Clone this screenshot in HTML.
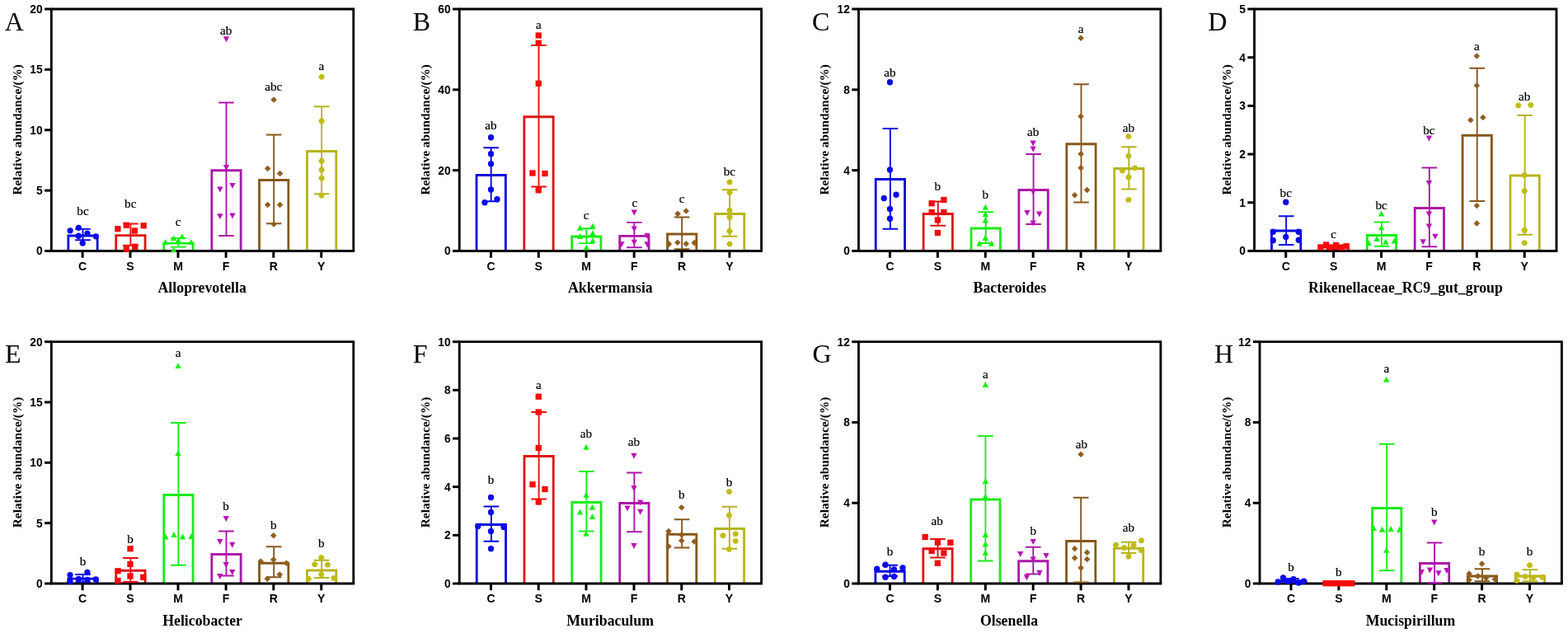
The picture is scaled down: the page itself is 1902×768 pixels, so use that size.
<!DOCTYPE html>
<html lang="en">
<head>
<meta charset="utf-8">
<title>Relative abundance of genera</title>
<style>
html,body{margin:0;padding:0;background:#fff;}
body{width:1902px;height:768px;overflow:hidden;}
svg{display:block;}
.tk{font-family:"Liberation Sans",sans-serif;font-weight:bold;font-size:13.8px;fill:#000;}
.xl{font-family:"Liberation Sans",sans-serif;font-weight:bold;font-size:14.1px;fill:#000;}
.tt{font-family:"Liberation Serif",serif;font-weight:bold;font-size:17.8px;fill:#000;}
.yl{font-family:"Liberation Serif",serif;font-weight:bold;font-size:15.3px;fill:#000;}
.pl{font-family:"Liberation Serif",serif;font-size:32px;fill:#000;}
.an{font-family:"Liberation Serif",serif;font-size:15.2px;fill:#000;stroke:#000;stroke-width:0.2px;}
</style>
</head>
<body>
<svg width="1902" height="768" viewBox="0 0 1902 768">
<rect x="0" y="0" width="1902" height="768" fill="#ffffff"/>

<g id="panel-A">
<path d="M82.85,304.45 V286 H118.15 V304.45" fill="none" stroke="#0a08dc" stroke-width="2.8"/>
<path d="M140.75,304.45 V285.6 H176.05 V304.45" fill="none" stroke="#e21212" stroke-width="2.8"/>
<path d="M198.75,304.45 V295.1 H234.05 V304.45" fill="none" stroke="#1aec1a" stroke-width="2.8"/>
<path d="M256.85,304.45 V206.75 H292.15 V304.45" fill="none" stroke="#ac16a8" stroke-width="2.8"/>
<path d="M314.55,304.45 V218.5 H349.85 V304.45" fill="none" stroke="#86581a" stroke-width="2.8"/>
<path d="M372.5,304.45 V183.5 H407.8 V304.45" fill="none" stroke="#b6b41a" stroke-width="2.8"/>
<path d="M60.88,11 H428.8 V304.45" fill="none" stroke="#000" stroke-width="2.85"/>
<path d="M62.3,11 V304.45 H430.23" fill="none" stroke="#000" stroke-width="2.85" stroke-linejoin="miter"/>
<path d="M54.1,11 H62.3" stroke="#000" stroke-width="3"/>
<text class="tk" x="51.7" y="16" text-anchor="end">20</text>
<path d="M54.1,84.36 H62.3" stroke="#000" stroke-width="3"/>
<text class="tk" x="51.7" y="89.36" text-anchor="end">15</text>
<path d="M54.1,157.72 H62.3" stroke="#000" stroke-width="3"/>
<text class="tk" x="51.7" y="162.72" text-anchor="end">10</text>
<path d="M54.1,231.09 H62.3" stroke="#000" stroke-width="3"/>
<text class="tk" x="51.7" y="236.09" text-anchor="end">5</text>
<path d="M54.1,304.45 H62.3" stroke="#000" stroke-width="3"/>
<text class="tk" x="51.7" y="309.45" text-anchor="end">0</text>
<path d="M100.1,304.45 V312.75" stroke="#000" stroke-width="3"/>
<text class="xl" x="100.1" y="327.55" text-anchor="middle">C</text>
<path d="M158,304.45 V312.75" stroke="#000" stroke-width="3"/>
<text class="xl" x="158" y="327.55" text-anchor="middle">S</text>
<path d="M216,304.45 V312.75" stroke="#000" stroke-width="3"/>
<text class="xl" x="216" y="327.55" text-anchor="middle">M</text>
<path d="M274.1,304.45 V312.75" stroke="#000" stroke-width="3"/>
<text class="xl" x="274.1" y="327.55" text-anchor="middle">F</text>
<path d="M331.8,304.45 V312.75" stroke="#000" stroke-width="3"/>
<text class="xl" x="331.8" y="327.55" text-anchor="middle">R</text>
<path d="M389.75,304.45 V312.75" stroke="#000" stroke-width="3"/>
<text class="xl" x="389.75" y="327.55" text-anchor="middle">Y</text>
<g>
<path d="M100.5,277.9 V291.25 M91.2,277.9 H109.8 M91.2,291.25 H109.8" fill="none" stroke="#0a08dc" stroke-width="1.9"/>
<circle cx="85.1" cy="279.8" r="3.65" fill="#0c0ae8"/>
<circle cx="95.3" cy="276.35" r="3.65" fill="#0c0ae8"/>
<circle cx="105.9" cy="283.1" r="3.65" fill="#0c0ae8"/>
<circle cx="95.3" cy="286.25" r="3.65" fill="#0c0ae8"/>
<circle cx="116.35" cy="286.8" r="3.65" fill="#0c0ae8"/>
<circle cx="100.2" cy="295.1" r="3.65" fill="#0c0ae8"/>
</g>
<g>
<path d="M158.4,271.5 V297.7 M149.1,271.5 H167.7 M149.1,297.7 H167.7" fill="none" stroke="#e21212" stroke-width="1.9"/>
<rect x="139.25" y="274.05" width="7.3" height="7.3" fill="#f40c0c"/>
<rect x="149.65" y="269.55" width="7.3" height="7.3" fill="#f40c0c"/>
<rect x="170.55" y="270.1" width="7.3" height="7.3" fill="#f40c0c"/>
<rect x="159.75" y="276.35" width="7.3" height="7.3" fill="#f40c0c"/>
<rect x="149.65" y="298.45" width="7.3" height="7.3" fill="#f40c0c"/>
<rect x="160.1" y="295.65" width="7.3" height="7.3" fill="#f40c0c"/>
</g>
<g>
<path d="M216.4,288.85 V299.6 M207.1,288.85 H225.7 M207.1,299.6 H225.7" fill="none" stroke="#1aec1a" stroke-width="1.9"/>
<polygon points="200.7,290 204.4,296.9 197,296.9" fill="#16f016"/>
<polygon points="210.6,285.4 214.3,292.3 206.9,292.3" fill="#16f016"/>
<polygon points="221,283.3 224.7,290.2 217.3,290.2" fill="#16f016"/>
<polygon points="232,290 235.7,296.9 228.3,296.9" fill="#16f016"/>
<polygon points="210.6,299.4 214.3,306.3 206.9,306.3" fill="#16f016"/>
<polygon points="216.3,288 220,294.9 212.6,294.9" fill="#16f016"/>
</g>
<g>
<path d="M274.5,124.5 V286 M265.2,124.5 H283.8 M265.2,286 H283.8" fill="none" stroke="#ac16a8" stroke-width="1.9"/>
<polygon points="270.8,44.35 278.2,44.35 274.5,51.25" fill="#b814b6"/>
<polygon points="270.8,200.1 278.2,200.1 274.5,207" fill="#b814b6"/>
<polygon points="263.2,226.5 270.6,226.5 266.9,233.4" fill="#b814b6"/>
<polygon points="278.3,222 285.7,222 282,228.9" fill="#b814b6"/>
<polygon points="263.2,259.2 270.6,259.2 266.9,266.1" fill="#b814b6"/>
<polygon points="278.3,258.5 285.7,258.5 282,265.4" fill="#b814b6"/>
</g>
<g>
<path d="M332.2,163.5 V271.25 M322.9,163.5 H341.5 M322.9,271.25 H341.5" fill="none" stroke="#86581a" stroke-width="1.9"/>
<polygon points="332.1,117.2 335.9,121 332.1,124.8 328.3,121" fill="#905e20"/>
<polygon points="324.7,200.7 328.5,204.5 324.7,208.3 320.9,204.5" fill="#905e20"/>
<polygon points="339.6,206.7 343.4,210.5 339.6,214.3 335.8,210.5" fill="#905e20"/>
<polygon points="324.7,244.7 328.5,248.5 324.7,252.3 320.9,248.5" fill="#905e20"/>
<polygon points="339.6,244.7 343.4,248.5 339.6,252.3 335.8,248.5" fill="#905e20"/>
<polygon points="332.1,268.2 335.9,272 332.1,275.8 328.3,272" fill="#905e20"/>
</g>
<g>
<path d="M390.15,129.25 V235.3 M380.85,129.25 H399.45 M380.85,235.3 H399.45" fill="none" stroke="#b6b41a" stroke-width="1.9"/>
<polygon points="386.25,93.25 388.2,90 392,90 393.95,93.25 392,96.5 388.2,96.5" fill="#c0bc16"/>
<polygon points="386.25,146.75 388.2,143.5 392,143.5 393.95,146.75 392,150 388.2,150" fill="#c0bc16"/>
<polygon points="386.25,195.2 388.2,191.95 392,191.95 393.95,195.2 392,198.45 388.2,198.45" fill="#c0bc16"/>
<polygon points="386.25,206.1 388.2,202.85 392,202.85 393.95,206.1 392,209.35 388.2,209.35" fill="#c0bc16"/>
<polygon points="386.25,216.2 388.2,212.95 392,212.95 393.95,216.2 392,219.45 388.2,219.45" fill="#c0bc16"/>
<polygon points="386.25,237.2 388.2,233.95 392,233.95 393.95,237.2 392,240.45 388.2,240.45" fill="#c0bc16"/>
</g>
<text class="an" x="100.5" y="261.25" text-anchor="middle">bc</text>
<text class="an" x="158.25" y="251.9" text-anchor="middle">bc</text>
<text class="an" x="216" y="274.4" text-anchor="middle">c</text>
<text class="an" x="274.1" y="41.75" text-anchor="middle">ab</text>
<text class="an" x="331.8" y="109.5" text-anchor="middle">abc</text>
<text class="an" x="389.75" y="85" text-anchor="middle">a</text>
<text class="tt" x="245.2" y="355" text-anchor="middle">Alloprevotella</text>
<text class="yl" transform="translate(25.5,157.32) rotate(-90)" text-anchor="middle">Relative abundance/(%)</text>
<text class="pl" x="5.7" y="36.7">A</text>
</g>
<g id="panel-B">
<path d="M578.05,304.45 V212.5 H613.35 V304.45" fill="none" stroke="#0a08dc" stroke-width="2.8"/>
<path d="M635.85,304.45 V141.75 H671.15 V304.45" fill="none" stroke="#e21212" stroke-width="2.8"/>
<path d="M693.65,304.45 V287 H728.95 V304.45" fill="none" stroke="#1aec1a" stroke-width="2.8"/>
<path d="M751.75,304.45 V286.4 H787.05 V304.45" fill="none" stroke="#ac16a8" stroke-width="2.8"/>
<path d="M809.55,304.45 V284 H844.85 V304.45" fill="none" stroke="#86581a" stroke-width="2.8"/>
<path d="M867.45,304.45 V259.5 H902.75 V304.45" fill="none" stroke="#b6b41a" stroke-width="2.8"/>
<path d="M555.83,11 H923.6 V304.45" fill="none" stroke="#000" stroke-width="2.85"/>
<path d="M557.25,11 V304.45 H925.02" fill="none" stroke="#000" stroke-width="2.85" stroke-linejoin="miter"/>
<path d="M549.05,11 H557.25" stroke="#000" stroke-width="3"/>
<text class="tk" x="546.65" y="16" text-anchor="end">60</text>
<path d="M549.05,108.82 H557.25" stroke="#000" stroke-width="3"/>
<text class="tk" x="546.65" y="113.82" text-anchor="end">40</text>
<path d="M549.05,206.63 H557.25" stroke="#000" stroke-width="3"/>
<text class="tk" x="546.65" y="211.63" text-anchor="end">20</text>
<path d="M549.05,304.45 H557.25" stroke="#000" stroke-width="3"/>
<text class="tk" x="546.65" y="309.45" text-anchor="end">0</text>
<path d="M595.5,304.45 V312.75" stroke="#000" stroke-width="3"/>
<text class="xl" x="595.5" y="327.55" text-anchor="middle">C</text>
<path d="M653.3,304.45 V312.75" stroke="#000" stroke-width="3"/>
<text class="xl" x="653.3" y="327.55" text-anchor="middle">S</text>
<path d="M711.1,304.45 V312.75" stroke="#000" stroke-width="3"/>
<text class="xl" x="711.1" y="327.55" text-anchor="middle">M</text>
<path d="M769.2,304.45 V312.75" stroke="#000" stroke-width="3"/>
<text class="xl" x="769.2" y="327.55" text-anchor="middle">F</text>
<path d="M827,304.45 V312.75" stroke="#000" stroke-width="3"/>
<text class="xl" x="827" y="327.55" text-anchor="middle">R</text>
<path d="M884.9,304.45 V312.75" stroke="#000" stroke-width="3"/>
<text class="xl" x="884.9" y="327.55" text-anchor="middle">Y</text>
<g>
<path d="M595.7,179.25 V244.25 M586.4,179.25 H605 M586.4,244.25 H605" fill="none" stroke="#0a08dc" stroke-width="1.9"/>
<circle cx="595.5" cy="166.75" r="3.65" fill="#0c0ae8"/>
<circle cx="595.5" cy="186.75" r="3.65" fill="#0c0ae8"/>
<circle cx="595.5" cy="198.75" r="3.65" fill="#0c0ae8"/>
<circle cx="595.5" cy="230" r="3.65" fill="#0c0ae8"/>
<circle cx="603" cy="241.75" r="3.65" fill="#0c0ae8"/>
<circle cx="588" cy="245.75" r="3.65" fill="#0c0ae8"/>
</g>
<g>
<path d="M653.5,55 V226.5 M644.2,55 H662.8 M644.2,226.5 H662.8" fill="none" stroke="#e21212" stroke-width="1.9"/>
<rect x="649.6" y="39.35" width="7.3" height="7.3" fill="#f40c0c"/>
<rect x="649.6" y="48.6" width="7.3" height="7.3" fill="#f40c0c"/>
<rect x="649.6" y="97.6" width="7.3" height="7.3" fill="#f40c0c"/>
<rect x="642.35" y="206.35" width="7.3" height="7.3" fill="#f40c0c"/>
<rect x="657.35" y="206.85" width="7.3" height="7.3" fill="#f40c0c"/>
<rect x="649.6" y="227.1" width="7.3" height="7.3" fill="#f40c0c"/>
</g>
<g>
<path d="M711.3,277.3 V295.1 M702,277.3 H720.6 M702,295.1 H720.6" fill="none" stroke="#1aec1a" stroke-width="1.9"/>
<polygon points="719,270.4 722.7,277.3 715.3,277.3" fill="#16f016"/>
<polygon points="703.5,272.9 707.2,279.8 699.8,279.8" fill="#16f016"/>
<polygon points="719,279.2 722.7,286.1 715.3,286.1" fill="#16f016"/>
<polygon points="703.5,283 707.2,289.9 699.8,289.9" fill="#16f016"/>
<polygon points="719,288 722.7,294.9 715.3,294.9" fill="#16f016"/>
<polygon points="711.4,296.5 715.1,303.4 707.7,303.4" fill="#16f016"/>
</g>
<g>
<path d="M769.4,269.9 V300.2 M760.1,269.9 H778.7 M760.1,300.2 H778.7" fill="none" stroke="#ac16a8" stroke-width="1.9"/>
<polygon points="765.6,254.6 773,254.6 769.3,261.5" fill="#b814b6"/>
<polygon points="765.6,274.6 773,274.6 769.3,281.5" fill="#b814b6"/>
<polygon points="781.2,283 788.6,283 784.9,289.9" fill="#b814b6"/>
<polygon points="765.6,290.7 773,290.7 769.3,297.6" fill="#b814b6"/>
<polygon points="750.1,293.3 757.5,293.3 753.8,300.2" fill="#b814b6"/>
<polygon points="781.5,293.3 788.9,293.3 785.2,300.2" fill="#b814b6"/>
</g>
<g>
<path d="M827.2,263.5 V302.1 M817.9,263.5 H836.5 M817.9,302.1 H836.5" fill="none" stroke="#86581a" stroke-width="1.9"/>
<polygon points="822.1,255.6 825.9,259.4 822.1,263.2 818.3,259.4" fill="#905e20"/>
<polygon points="832.3,252.2 836.1,256 832.3,259.8 828.5,256" fill="#905e20"/>
<polygon points="811.4,292.3 815.2,296.1 811.4,299.9 807.6,296.1" fill="#905e20"/>
<polygon points="821.9,290.4 825.7,294.2 821.9,298 818.1,294.2" fill="#905e20"/>
<polygon points="832.3,291.9 836.1,295.7 832.3,299.5 828.5,295.7" fill="#905e20"/>
<polygon points="842.25,290.8 846.05,294.6 842.25,298.4 838.45,294.6" fill="#905e20"/>
</g>
<g>
<path d="M885.1,230.25 V286.75 M875.8,230.25 H894.4 M875.8,286.75 H894.4" fill="none" stroke="#b6b41a" stroke-width="1.9"/>
<polygon points="881.15,221 883.1,217.75 886.9,217.75 888.85,221 886.9,224.25 883.1,224.25" fill="#c0bc16"/>
<polygon points="881.15,233.5 883.1,230.25 886.9,230.25 888.85,233.5 886.9,236.75 883.1,236.75" fill="#c0bc16"/>
<polygon points="881.15,255.2 883.1,251.95 886.9,251.95 888.85,255.2 886.9,258.45 883.1,258.45" fill="#c0bc16"/>
<polygon points="881.15,263.5 883.1,260.25 886.9,260.25 888.85,263.5 886.9,266.75 883.1,266.75" fill="#c0bc16"/>
<polygon points="881.15,280.5 883.1,277.25 886.9,277.25 888.85,280.5 886.9,283.75 883.1,283.75" fill="#c0bc16"/>
<polygon points="881.15,296 883.1,292.75 886.9,292.75 888.85,296 886.9,299.25 883.1,299.25" fill="#c0bc16"/>
</g>
<text class="an" x="595.5" y="156.5" text-anchor="middle">ab</text>
<text class="an" x="653.3" y="35" text-anchor="middle">a</text>
<text class="an" x="711.1" y="266.25" text-anchor="middle">c</text>
<text class="an" x="769.75" y="251.25" text-anchor="middle">c</text>
<text class="an" x="827" y="246.25" text-anchor="middle">c</text>
<text class="an" x="884.9" y="212.5" text-anchor="middle">bc</text>
<text class="tt" x="740.4" y="355" text-anchor="middle">Akkermansia</text>
<text class="yl" transform="translate(520.6,157.32) rotate(-90)" text-anchor="middle">Relative abundance/(%)</text>
<text class="pl" x="500.8" y="36.7">B</text>
</g>
<g id="panel-C">
<path d="M1062.25,304.45 V217.5 H1097.55 V304.45" fill="none" stroke="#0a08dc" stroke-width="2.8"/>
<path d="M1120.15,304.45 V259.5 H1155.45 V304.45" fill="none" stroke="#e21212" stroke-width="2.8"/>
<path d="M1178.05,304.45 V277 H1213.35 V304.45" fill="none" stroke="#1aec1a" stroke-width="2.8"/>
<path d="M1235.95,304.45 V230.5 H1271.25 V304.45" fill="none" stroke="#ac16a8" stroke-width="2.8"/>
<path d="M1293.85,304.45 V174.75 H1329.15 V304.45" fill="none" stroke="#86581a" stroke-width="2.8"/>
<path d="M1351.75,304.45 V204.5 H1387.05 V304.45" fill="none" stroke="#b6b41a" stroke-width="2.8"/>
<path d="M1040.08,11 H1407.9 V304.45" fill="none" stroke="#000" stroke-width="2.85"/>
<path d="M1041.5,11 V304.45 H1409.33" fill="none" stroke="#000" stroke-width="2.85" stroke-linejoin="miter"/>
<path d="M1033.3,11 H1041.5" stroke="#000" stroke-width="3"/>
<text class="tk" x="1030.9" y="16" text-anchor="end">12</text>
<path d="M1033.3,108.82 H1041.5" stroke="#000" stroke-width="3"/>
<text class="tk" x="1030.9" y="113.82" text-anchor="end">8</text>
<path d="M1033.3,206.63 H1041.5" stroke="#000" stroke-width="3"/>
<text class="tk" x="1030.9" y="211.63" text-anchor="end">4</text>
<path d="M1033.3,304.45 H1041.5" stroke="#000" stroke-width="3"/>
<text class="tk" x="1030.9" y="309.45" text-anchor="end">0</text>
<path d="M1079.5,304.45 V312.75" stroke="#000" stroke-width="3"/>
<text class="xl" x="1079.5" y="327.55" text-anchor="middle">C</text>
<path d="M1137.4,304.45 V312.75" stroke="#000" stroke-width="3"/>
<text class="xl" x="1137.4" y="327.55" text-anchor="middle">S</text>
<path d="M1195.3,304.45 V312.75" stroke="#000" stroke-width="3"/>
<text class="xl" x="1195.3" y="327.55" text-anchor="middle">M</text>
<path d="M1253.2,304.45 V312.75" stroke="#000" stroke-width="3"/>
<text class="xl" x="1253.2" y="327.55" text-anchor="middle">F</text>
<path d="M1311.1,304.45 V312.75" stroke="#000" stroke-width="3"/>
<text class="xl" x="1311.1" y="327.55" text-anchor="middle">R</text>
<path d="M1369,304.45 V312.75" stroke="#000" stroke-width="3"/>
<text class="xl" x="1369" y="327.55" text-anchor="middle">Y</text>
<g>
<path d="M1079.9,156 V277.75 M1070.6,156 H1089.2 M1070.6,277.75 H1089.2" fill="none" stroke="#0a08dc" stroke-width="1.9"/>
<circle cx="1079.5" cy="99.75" r="3.65" fill="#0c0ae8"/>
<circle cx="1079.5" cy="206" r="3.65" fill="#0c0ae8"/>
<circle cx="1072.25" cy="240.5" r="3.65" fill="#0c0ae8"/>
<circle cx="1087" cy="236.25" r="3.65" fill="#0c0ae8"/>
<circle cx="1079.5" cy="253.5" r="3.65" fill="#0c0ae8"/>
<circle cx="1079.5" cy="265.25" r="3.65" fill="#0c0ae8"/>
</g>
<g>
<path d="M1137.8,244.5 V273.75 M1128.5,244.5 H1147.1 M1128.5,273.75 H1147.1" fill="none" stroke="#e21212" stroke-width="1.9"/>
<rect x="1126.5" y="243.1" width="7.3" height="7.3" fill="#f40c0c"/>
<rect x="1141.25" y="238.85" width="7.3" height="7.3" fill="#f40c0c"/>
<rect x="1126.5" y="253.85" width="7.3" height="7.3" fill="#f40c0c"/>
<rect x="1141.25" y="253.85" width="7.3" height="7.3" fill="#f40c0c"/>
<rect x="1133.75" y="263.35" width="7.3" height="7.3" fill="#f40c0c"/>
<rect x="1133.75" y="278.85" width="7.3" height="7.3" fill="#f40c0c"/>
</g>
<g>
<path d="M1195.7,257.25 V295 M1186.4,257.25 H1205 M1186.4,295 H1205" fill="none" stroke="#1aec1a" stroke-width="1.9"/>
<polygon points="1195.3,247.75 1199,254.65 1191.6,254.65" fill="#16f016"/>
<polygon points="1195.3,256 1199,262.9 1191.6,262.9" fill="#16f016"/>
<polygon points="1195.3,263.5 1199,270.4 1191.6,270.4" fill="#16f016"/>
<polygon points="1195.3,284.75 1199,291.65 1191.6,291.65" fill="#16f016"/>
<polygon points="1188.05,291.75 1191.75,298.65 1184.35,298.65" fill="#16f016"/>
<polygon points="1202.55,291.75 1206.25,298.65 1198.85,298.65" fill="#16f016"/>
</g>
<g>
<path d="M1253.6,187 V272 M1244.3,187 H1262.9 M1244.3,272 H1262.9" fill="none" stroke="#ac16a8" stroke-width="1.9"/>
<polygon points="1249.5,170.6 1256.9,170.6 1253.2,177.5" fill="#b814b6"/>
<polygon points="1249.5,177.6 1256.9,177.6 1253.2,184.5" fill="#b814b6"/>
<polygon points="1249.5,229.6 1256.9,229.6 1253.2,236.5" fill="#b814b6"/>
<polygon points="1242.25,255.1 1249.65,255.1 1245.95,262" fill="#b814b6"/>
<polygon points="1257,256.6 1264.4,256.6 1260.7,263.5" fill="#b814b6"/>
<polygon points="1249.5,267.6 1256.9,267.6 1253.2,274.5" fill="#b814b6"/>
</g>
<g>
<path d="M1311.5,102.25 V245.5 M1302.2,102.25 H1320.8 M1302.2,245.5 H1320.8" fill="none" stroke="#86581a" stroke-width="1.9"/>
<polygon points="1311.1,42.45 1314.9,46.25 1311.1,50.05 1307.3,46.25" fill="#905e20"/>
<polygon points="1311.1,137.45 1314.9,141.25 1311.1,145.05 1307.3,141.25" fill="#905e20"/>
<polygon points="1311.1,182.95 1314.9,186.75 1311.1,190.55 1307.3,186.75" fill="#905e20"/>
<polygon points="1311.1,199.95 1314.9,203.75 1311.1,207.55 1307.3,203.75" fill="#905e20"/>
<polygon points="1303.6,232.95 1307.4,236.75 1303.6,240.55 1299.8,236.75" fill="#905e20"/>
<polygon points="1318.6,226.7 1322.4,230.5 1318.6,234.3 1314.8,230.5" fill="#905e20"/>
</g>
<g>
<path d="M1369.4,178.25 V229.5 M1360.1,178.25 H1378.7 M1360.1,229.5 H1378.7" fill="none" stroke="#b6b41a" stroke-width="1.9"/>
<polygon points="1365.15,165.5 1367.1,162.25 1370.9,162.25 1372.85,165.5 1370.9,168.75 1367.1,168.75" fill="#c0bc16"/>
<polygon points="1365.15,189.25 1367.1,186 1370.9,186 1372.85,189.25 1370.9,192.5 1367.1,192.5" fill="#c0bc16"/>
<polygon points="1357.65,207 1359.6,203.75 1363.4,203.75 1365.35,207 1363.4,210.25 1359.6,210.25" fill="#c0bc16"/>
<polygon points="1372.9,203.75 1374.85,200.5 1378.65,200.5 1380.6,203.75 1378.65,207 1374.85,207" fill="#c0bc16"/>
<polygon points="1365.15,215 1367.1,211.75 1370.9,211.75 1372.85,215 1370.9,218.25 1367.1,218.25" fill="#c0bc16"/>
<polygon points="1365.15,242.5 1367.1,239.25 1370.9,239.25 1372.85,242.5 1370.9,245.75 1367.1,245.75" fill="#c0bc16"/>
</g>
<text class="an" x="1079.5" y="93" text-anchor="middle">ab</text>
<text class="an" x="1137.4" y="230.5" text-anchor="middle">b</text>
<text class="an" x="1195.3" y="240.75" text-anchor="middle">b</text>
<text class="an" x="1253.2" y="165" text-anchor="middle">ab</text>
<text class="an" x="1311.1" y="39.75" text-anchor="middle">a</text>
<text class="an" x="1369" y="159.75" text-anchor="middle">ab</text>
<text class="tt" x="1224.9" y="355" text-anchor="middle">Bacteroides</text>
<text class="yl" transform="translate(1005.4,157.32) rotate(-90)" text-anchor="middle">Relative abundance/(%)</text>
<text class="pl" x="985" y="36.7">C</text>
</g>
<g id="panel-D">
<path d="M1542.5,304.45 V280 H1577.8 V304.45" fill="none" stroke="#0a08dc" stroke-width="2.8"/>
<path d="M1600.4,304.45 V300 H1635.7 V304.45" fill="none" stroke="#e21212" stroke-width="2.8"/>
<path d="M1658.3,304.45 V285.5 H1693.6 V304.45" fill="none" stroke="#1aec1a" stroke-width="2.8"/>
<path d="M1716.2,304.45 V252.5 H1751.5 V304.45" fill="none" stroke="#ac16a8" stroke-width="2.8"/>
<path d="M1774.1,304.45 V164.25 H1809.4 V304.45" fill="none" stroke="#86581a" stroke-width="2.8"/>
<path d="M1832,304.45 V213 H1867.3 V304.45" fill="none" stroke="#b6b41a" stroke-width="2.8"/>
<path d="M1520.12,11 H1888 V304.45" fill="none" stroke="#000" stroke-width="2.85"/>
<path d="M1521.55,11 V304.45 H1889.42" fill="none" stroke="#000" stroke-width="2.85" stroke-linejoin="miter"/>
<path d="M1513.35,11 H1521.55" stroke="#000" stroke-width="3"/>
<text class="tk" x="1510.95" y="16" text-anchor="end">5</text>
<path d="M1513.35,69.69 H1521.55" stroke="#000" stroke-width="3"/>
<text class="tk" x="1510.95" y="74.69" text-anchor="end">4</text>
<path d="M1513.35,128.38 H1521.55" stroke="#000" stroke-width="3"/>
<text class="tk" x="1510.95" y="133.38" text-anchor="end">3</text>
<path d="M1513.35,187.07 H1521.55" stroke="#000" stroke-width="3"/>
<text class="tk" x="1510.95" y="192.07" text-anchor="end">2</text>
<path d="M1513.35,245.76 H1521.55" stroke="#000" stroke-width="3"/>
<text class="tk" x="1510.95" y="250.76" text-anchor="end">1</text>
<path d="M1513.35,304.45 H1521.55" stroke="#000" stroke-width="3"/>
<text class="tk" x="1510.95" y="309.45" text-anchor="end">0</text>
<path d="M1559.75,304.45 V312.75" stroke="#000" stroke-width="3"/>
<text class="xl" x="1559.75" y="327.55" text-anchor="middle">C</text>
<path d="M1617.65,304.45 V312.75" stroke="#000" stroke-width="3"/>
<text class="xl" x="1617.65" y="327.55" text-anchor="middle">S</text>
<path d="M1675.55,304.45 V312.75" stroke="#000" stroke-width="3"/>
<text class="xl" x="1675.55" y="327.55" text-anchor="middle">M</text>
<path d="M1733.45,304.45 V312.75" stroke="#000" stroke-width="3"/>
<text class="xl" x="1733.45" y="327.55" text-anchor="middle">F</text>
<path d="M1791.35,304.45 V312.75" stroke="#000" stroke-width="3"/>
<text class="xl" x="1791.35" y="327.55" text-anchor="middle">R</text>
<path d="M1849.25,304.45 V312.75" stroke="#000" stroke-width="3"/>
<text class="xl" x="1849.25" y="327.55" text-anchor="middle">Y</text>
<g>
<path d="M1560.15,262.25 V297 M1550.85,262.25 H1569.45 M1550.85,297 H1569.45" fill="none" stroke="#0a08dc" stroke-width="1.9"/>
<circle cx="1559.75" cy="245.25" r="3.65" fill="#0c0ae8"/>
<circle cx="1544.25" cy="281.25" r="3.65" fill="#0c0ae8"/>
<circle cx="1575.25" cy="281.25" r="3.65" fill="#0c0ae8"/>
<circle cx="1559.75" cy="287.5" r="3.65" fill="#0c0ae8"/>
<circle cx="1544.25" cy="291.75" r="3.65" fill="#0c0ae8"/>
<circle cx="1575.25" cy="291.25" r="3.65" fill="#0c0ae8"/>
</g>
<g>
<path d="M1618.05,298 V302 M1608.75,298 H1627.35 M1608.75,302 H1627.35" fill="none" stroke="#e21212" stroke-width="1.9"/>
<rect x="1598.25" y="296.35" width="7.3" height="7.3" fill="#f40c0c"/>
<rect x="1605" y="293.35" width="7.3" height="7.3" fill="#f40c0c"/>
<rect x="1610.5" y="296.35" width="7.3" height="7.3" fill="#f40c0c"/>
<rect x="1617" y="293.85" width="7.3" height="7.3" fill="#f40c0c"/>
<rect x="1623.25" y="296.35" width="7.3" height="7.3" fill="#f40c0c"/>
<rect x="1629.5" y="295.1" width="7.3" height="7.3" fill="#f40c0c"/>
</g>
<g>
<path d="M1675.95,269.5 V298.75 M1666.65,269.5 H1685.25 M1666.65,298.75 H1685.25" fill="none" stroke="#1aec1a" stroke-width="1.9"/>
<polygon points="1675.55,255.5 1679.25,262.4 1671.85,262.4" fill="#16f016"/>
<polygon points="1675.55,272.25 1679.25,279.15 1671.85,279.15" fill="#16f016"/>
<polygon points="1670.05,286 1673.75,292.9 1666.35,292.9" fill="#16f016"/>
<polygon points="1680.8,289.75 1684.5,296.65 1677.1,296.65" fill="#16f016"/>
<polygon points="1660.05,291 1663.75,297.9 1656.35,297.9" fill="#16f016"/>
<polygon points="1691.3,288.5 1695,295.4 1687.6,295.4" fill="#16f016"/>
</g>
<g>
<path d="M1733.85,203.5 V299.25 M1724.55,203.5 H1743.15 M1724.55,299.25 H1743.15" fill="none" stroke="#ac16a8" stroke-width="1.9"/>
<polygon points="1729.75,164.6 1737.15,164.6 1733.45,171.5" fill="#b814b6"/>
<polygon points="1729.75,219.1 1737.15,219.1 1733.45,226" fill="#b814b6"/>
<polygon points="1729.75,256.6 1737.15,256.6 1733.45,263.5" fill="#b814b6"/>
<polygon points="1729.75,271.6 1737.15,271.6 1733.45,278.5" fill="#b814b6"/>
<polygon points="1722.5,290.35 1729.9,290.35 1726.2,297.25" fill="#b814b6"/>
<polygon points="1737.25,283.85 1744.65,283.85 1740.95,290.75" fill="#b814b6"/>
</g>
<g>
<path d="M1791.75,82.75 V244 M1782.45,82.75 H1801.05 M1782.45,244 H1801.05" fill="none" stroke="#86581a" stroke-width="1.9"/>
<polygon points="1791.35,64.2 1795.15,68 1791.35,71.8 1787.55,68" fill="#905e20"/>
<polygon points="1791.35,99.95 1795.15,103.75 1791.35,107.55 1787.55,103.75" fill="#905e20"/>
<polygon points="1783.85,141.95 1787.65,145.75 1783.85,149.55 1780.05,145.75" fill="#905e20"/>
<polygon points="1798.85,138.7 1802.65,142.5 1798.85,146.3 1795.05,142.5" fill="#905e20"/>
<polygon points="1791.35,245.7 1795.15,249.5 1791.35,253.3 1787.55,249.5" fill="#905e20"/>
<polygon points="1791.35,267.2 1795.15,271 1791.35,274.8 1787.55,271" fill="#905e20"/>
</g>
<g>
<path d="M1849.65,140 V284.75 M1840.35,140 H1858.95 M1840.35,284.75 H1858.95" fill="none" stroke="#b6b41a" stroke-width="1.9"/>
<polygon points="1837.9,128 1839.85,124.75 1843.65,124.75 1845.6,128 1843.65,131.25 1839.85,131.25" fill="#c0bc16"/>
<polygon points="1852.9,127.5 1854.85,124.25 1858.65,124.25 1860.6,127.5 1858.65,130.75 1854.85,130.75" fill="#c0bc16"/>
<polygon points="1845.4,212.5 1847.35,209.25 1851.15,209.25 1853.1,212.5 1851.15,215.75 1847.35,215.75" fill="#c0bc16"/>
<polygon points="1845.4,231.75 1847.35,228.5 1851.15,228.5 1853.1,231.75 1851.15,235 1847.35,235" fill="#c0bc16"/>
<polygon points="1845.4,279.5 1847.35,276.25 1851.15,276.25 1853.1,279.5 1851.15,282.75 1847.35,282.75" fill="#c0bc16"/>
<polygon points="1845.4,294.75 1847.35,291.5 1851.15,291.5 1853.1,294.75 1851.15,298 1847.35,298" fill="#c0bc16"/>
</g>
<text class="an" x="1559.75" y="238.75" text-anchor="middle">bc</text>
<text class="an" x="1617.65" y="288.75" text-anchor="middle">c</text>
<text class="an" x="1675.55" y="253.75" text-anchor="middle">bc</text>
<text class="an" x="1733.45" y="162.5" text-anchor="middle">bc</text>
<text class="an" x="1791.35" y="61.25" text-anchor="middle">a</text>
<text class="an" x="1849.25" y="121.75" text-anchor="middle">ab</text>
<text class="tt" x="1705" y="355" text-anchor="middle">Rikenellaceae_RC9_gut_group</text>
<text class="yl" transform="translate(1492.6,157.32) rotate(-90)" text-anchor="middle">Relative abundance/(%)</text>
<text class="pl" x="1465.2" y="36.7">D</text>
</g>
<g id="panel-E">
<path d="M82.85,708 V702.2 H118.15 V708" fill="none" stroke="#0a08dc" stroke-width="2.8"/>
<path d="M140.75,708 V692.25 H176.05 V708" fill="none" stroke="#e21212" stroke-width="2.8"/>
<path d="M198.75,708 V600.5 H234.05 V708" fill="none" stroke="#1aec1a" stroke-width="2.8"/>
<path d="M256.85,708 V672.5 H292.15 V708" fill="none" stroke="#ac16a8" stroke-width="2.8"/>
<path d="M314.55,708 V683.25 H349.85 V708" fill="none" stroke="#86581a" stroke-width="2.8"/>
<path d="M372.5,708 V692 H407.8 V708" fill="none" stroke="#b6b41a" stroke-width="2.8"/>
<path d="M60.88,414.65 H428.8 V708" fill="none" stroke="#000" stroke-width="2.85"/>
<path d="M62.3,414.65 V708 H430.23" fill="none" stroke="#000" stroke-width="2.85" stroke-linejoin="miter"/>
<path d="M54.1,414.65 H62.3" stroke="#000" stroke-width="3"/>
<text class="tk" x="51.7" y="419.65" text-anchor="end">20</text>
<path d="M54.1,487.99 H62.3" stroke="#000" stroke-width="3"/>
<text class="tk" x="51.7" y="492.99" text-anchor="end">15</text>
<path d="M54.1,561.33 H62.3" stroke="#000" stroke-width="3"/>
<text class="tk" x="51.7" y="566.33" text-anchor="end">10</text>
<path d="M54.1,634.66 H62.3" stroke="#000" stroke-width="3"/>
<text class="tk" x="51.7" y="639.66" text-anchor="end">5</text>
<path d="M54.1,708 H62.3" stroke="#000" stroke-width="3"/>
<text class="tk" x="51.7" y="713" text-anchor="end">0</text>
<path d="M100.1,708 V716.3" stroke="#000" stroke-width="3"/>
<text class="xl" x="100.1" y="731" text-anchor="middle">C</text>
<path d="M158,708 V716.3" stroke="#000" stroke-width="3"/>
<text class="xl" x="158" y="731" text-anchor="middle">S</text>
<path d="M216,708 V716.3" stroke="#000" stroke-width="3"/>
<text class="xl" x="216" y="731" text-anchor="middle">M</text>
<path d="M274.1,708 V716.3" stroke="#000" stroke-width="3"/>
<text class="xl" x="274.1" y="731" text-anchor="middle">F</text>
<path d="M331.8,708 V716.3" stroke="#000" stroke-width="3"/>
<text class="xl" x="331.8" y="731" text-anchor="middle">R</text>
<path d="M389.75,708 V716.3" stroke="#000" stroke-width="3"/>
<text class="xl" x="389.75" y="731" text-anchor="middle">Y</text>
<g>
<path d="M100.5,697 V706.3 M91.2,697 H109.8 M91.2,706.3 H109.8" fill="none" stroke="#0a08dc" stroke-width="1.9"/>
<circle cx="85" cy="697.6" r="3.65" fill="#0c0ae8"/>
<circle cx="105.9" cy="694.5" r="3.65" fill="#0c0ae8"/>
<circle cx="95.3" cy="702.5" r="3.65" fill="#0c0ae8"/>
<circle cx="105.9" cy="703.4" r="3.65" fill="#0c0ae8"/>
<circle cx="116.2" cy="703" r="3.65" fill="#0c0ae8"/>
<circle cx="85" cy="705.5" r="3.65" fill="#0c0ae8"/>
</g>
<g>
<path d="M158.4,677 V706 M149.1,677 H167.7 M149.1,706 H167.7" fill="none" stroke="#e21212" stroke-width="1.9"/>
<rect x="154.35" y="662.1" width="7.3" height="7.3" fill="#f40c0c"/>
<rect x="154.35" y="680.85" width="7.3" height="7.3" fill="#f40c0c"/>
<rect x="139.35" y="689.1" width="7.3" height="7.3" fill="#f40c0c"/>
<rect x="154.35" y="695.35" width="7.3" height="7.3" fill="#f40c0c"/>
<rect x="170.1" y="696.6" width="7.3" height="7.3" fill="#f40c0c"/>
<rect x="139.35" y="700.85" width="7.3" height="7.3" fill="#f40c0c"/>
</g>
<g>
<path d="M216.4,513 V685.75 M207.1,513 H225.7 M207.1,685.75 H225.7" fill="none" stroke="#1aec1a" stroke-width="1.9"/>
<polygon points="216,440 219.7,446.9 212.3,446.9" fill="#16f016"/>
<polygon points="216,546 219.7,552.9 212.3,552.9" fill="#16f016"/>
<polygon points="200.75,647.5 204.45,654.4 197.05,654.4" fill="#16f016"/>
<polygon points="211,645 214.7,651.9 207.3,651.9" fill="#16f016"/>
<polygon points="221.5,647.5 225.2,654.4 217.8,654.4" fill="#16f016"/>
<polygon points="232,647 235.7,653.9 228.3,653.9" fill="#16f016"/>
</g>
<g>
<path d="M274.5,644.5 V698.5 M265.2,644.5 H283.8 M265.2,698.5 H283.8" fill="none" stroke="#ac16a8" stroke-width="1.9"/>
<polygon points="270.55,626.1 277.95,626.1 274.25,633" fill="#b814b6"/>
<polygon points="263.05,654.1 270.45,654.1 266.75,661" fill="#b814b6"/>
<polygon points="278.05,657.85 285.45,657.85 281.75,664.75" fill="#b814b6"/>
<polygon points="270.55,682.1 277.95,682.1 274.25,689" fill="#b814b6"/>
<polygon points="278.05,691.1 285.45,691.1 281.75,698" fill="#b814b6"/>
<polygon points="263.05,696.1 270.45,696.1 266.75,703" fill="#b814b6"/>
</g>
<g>
<path d="M332.2,663.25 V700.25 M322.9,663.25 H341.5 M322.9,700.25 H341.5" fill="none" stroke="#86581a" stroke-width="1.9"/>
<polygon points="331.75,645.95 335.55,649.75 331.75,653.55 327.95,649.75" fill="#905e20"/>
<polygon points="331.75,675.2 335.55,679 331.75,682.8 327.95,679" fill="#905e20"/>
<polygon points="316.25,677.2 320.05,681 316.25,684.8 312.45,681" fill="#905e20"/>
<polygon points="347.5,679.45 351.3,683.25 347.5,687.05 343.7,683.25" fill="#905e20"/>
<polygon points="339.25,693.2 343.05,697 339.25,700.8 335.45,697" fill="#905e20"/>
<polygon points="324.25,698.45 328.05,702.25 324.25,706.05 320.45,702.25" fill="#905e20"/>
</g>
<g>
<path d="M390.15,679.75 V701 M380.85,679.75 H399.45 M380.85,701 H399.45" fill="none" stroke="#b6b41a" stroke-width="1.9"/>
<polygon points="385.9,676.5 387.85,673.25 391.65,673.25 393.6,676.5 391.65,679.75 387.85,679.75" fill="#c0bc16"/>
<polygon points="377.9,684.75 379.85,681.5 383.65,681.5 385.6,684.75 383.65,688 379.85,688" fill="#c0bc16"/>
<polygon points="393.65,685.25 395.6,682 399.4,682 401.35,685.25 399.4,688.5 395.6,688.5" fill="#c0bc16"/>
<polygon points="385.9,697 387.85,693.75 391.65,693.75 393.6,697 391.65,700.25 387.85,700.25" fill="#c0bc16"/>
<polygon points="370.4,702.25 372.35,699 376.15,699 378.1,702.25 376.15,705.5 372.35,705.5" fill="#c0bc16"/>
<polygon points="401.15,701.5 403.1,698.25 406.9,698.25 408.85,701.5 406.9,704.75 403.1,704.75" fill="#c0bc16"/>
</g>
<text class="an" x="100.5" y="685.5" text-anchor="middle">b</text>
<text class="an" x="158" y="659" text-anchor="middle">b</text>
<text class="an" x="216" y="433.25" text-anchor="middle">a</text>
<text class="an" x="274.1" y="618.5" text-anchor="middle">b</text>
<text class="an" x="331.8" y="642.25" text-anchor="middle">b</text>
<text class="an" x="389.75" y="663.5" text-anchor="middle">b</text>
<text class="tt" x="245.6" y="758.6" text-anchor="middle">Helicobacter</text>
<text class="yl" transform="translate(25.5,560.93) rotate(-90)" text-anchor="middle">Relative abundance/(%)</text>
<text class="pl" x="5.9" y="439.6">E</text>
</g>
<g id="panel-F">
<path d="M578.25,708 V636.5 H613.55 V708" fill="none" stroke="#0a08dc" stroke-width="2.8"/>
<path d="M636,708 V553.5 H671.3 V708" fill="none" stroke="#e21212" stroke-width="2.8"/>
<path d="M693.75,708 V609.5 H729.05 V708" fill="none" stroke="#1aec1a" stroke-width="2.8"/>
<path d="M751.75,708 V610.5 H787.05 V708" fill="none" stroke="#ac16a8" stroke-width="2.8"/>
<path d="M809.5,708 V648.25 H844.8 V708" fill="none" stroke="#86581a" stroke-width="2.8"/>
<path d="M867.25,708 V641.5 H902.55 V708" fill="none" stroke="#b6b41a" stroke-width="2.8"/>
<path d="M555.83,414.65 H923.6 V708" fill="none" stroke="#000" stroke-width="2.85"/>
<path d="M557.25,414.65 V708 H925.02" fill="none" stroke="#000" stroke-width="2.85" stroke-linejoin="miter"/>
<path d="M549.05,414.65 H557.25" stroke="#000" stroke-width="3"/>
<text class="tk" x="546.65" y="419.65" text-anchor="end">10</text>
<path d="M549.05,473.32 H557.25" stroke="#000" stroke-width="3"/>
<text class="tk" x="546.65" y="478.32" text-anchor="end">8</text>
<path d="M549.05,531.99 H557.25" stroke="#000" stroke-width="3"/>
<text class="tk" x="546.65" y="536.99" text-anchor="end">6</text>
<path d="M549.05,590.66 H557.25" stroke="#000" stroke-width="3"/>
<text class="tk" x="546.65" y="595.66" text-anchor="end">4</text>
<path d="M549.05,649.33 H557.25" stroke="#000" stroke-width="3"/>
<text class="tk" x="546.65" y="654.33" text-anchor="end">2</text>
<path d="M549.05,708 H557.25" stroke="#000" stroke-width="3"/>
<text class="tk" x="546.65" y="713" text-anchor="end">0</text>
<path d="M595.5,708 V716.3" stroke="#000" stroke-width="3"/>
<text class="xl" x="595.5" y="731" text-anchor="middle">C</text>
<path d="M653.25,708 V716.3" stroke="#000" stroke-width="3"/>
<text class="xl" x="653.25" y="731" text-anchor="middle">S</text>
<path d="M711,708 V716.3" stroke="#000" stroke-width="3"/>
<text class="xl" x="711" y="731" text-anchor="middle">M</text>
<path d="M769,708 V716.3" stroke="#000" stroke-width="3"/>
<text class="xl" x="769" y="731" text-anchor="middle">F</text>
<path d="M826.75,708 V716.3" stroke="#000" stroke-width="3"/>
<text class="xl" x="826.75" y="731" text-anchor="middle">R</text>
<path d="M884.5,708 V716.3" stroke="#000" stroke-width="3"/>
<text class="xl" x="884.5" y="731" text-anchor="middle">Y</text>
<g>
<path d="M595.9,614.5 V656.75 M586.6,614.5 H605.2 M586.6,656.75 H605.2" fill="none" stroke="#0a08dc" stroke-width="1.9"/>
<circle cx="595.5" cy="603.5" r="3.65" fill="#0c0ae8"/>
<circle cx="595.5" cy="621.5" r="3.65" fill="#0c0ae8"/>
<circle cx="579.75" cy="638.5" r="3.65" fill="#0c0ae8"/>
<circle cx="611" cy="639.5" r="3.65" fill="#0c0ae8"/>
<circle cx="595.5" cy="644.5" r="3.65" fill="#0c0ae8"/>
<circle cx="595.5" cy="665.75" r="3.65" fill="#0c0ae8"/>
</g>
<g>
<path d="M653.65,500 V605.5 M644.35,500 H662.95 M644.35,605.5 H662.95" fill="none" stroke="#e21212" stroke-width="1.9"/>
<rect x="649.6" y="477.6" width="7.3" height="7.3" fill="#f40c0c"/>
<rect x="649.6" y="496.35" width="7.3" height="7.3" fill="#f40c0c"/>
<rect x="649.6" y="539.85" width="7.3" height="7.3" fill="#f40c0c"/>
<rect x="642.35" y="584.1" width="7.3" height="7.3" fill="#f40c0c"/>
<rect x="657.35" y="589.85" width="7.3" height="7.3" fill="#f40c0c"/>
<rect x="649.6" y="605.35" width="7.3" height="7.3" fill="#f40c0c"/>
</g>
<g>
<path d="M711.4,572 V644.5 M702.1,572 H720.7 M702.1,644.5 H720.7" fill="none" stroke="#1aec1a" stroke-width="1.9"/>
<polygon points="711,538.75 714.7,545.65 707.3,545.65" fill="#16f016"/>
<polygon points="711,596.75 714.7,603.65 707.3,603.65" fill="#16f016"/>
<polygon points="718.5,611.75 722.2,618.65 714.8,618.65" fill="#16f016"/>
<polygon points="703.5,617.5 707.2,624.4 699.8,624.4" fill="#16f016"/>
<polygon points="718.5,623 722.2,629.9 714.8,629.9" fill="#16f016"/>
<polygon points="711,643.75 714.7,650.65 707.3,650.65" fill="#16f016"/>
</g>
<g>
<path d="M769.4,573.5 V645.25 M760.1,573.5 H778.7 M760.1,645.25 H778.7" fill="none" stroke="#ac16a8" stroke-width="1.9"/>
<polygon points="765.3,549.85 772.7,549.85 769,556.75" fill="#b814b6"/>
<polygon points="765.3,589.35 772.7,589.35 769,596.25" fill="#b814b6"/>
<polygon points="773.05,606.6 780.45,606.6 776.75,613.5" fill="#b814b6"/>
<polygon points="757.3,613.6 764.7,613.6 761,620.5" fill="#b814b6"/>
<polygon points="773.05,617.85 780.45,617.85 776.75,624.75" fill="#b814b6"/>
<polygon points="765.3,659.1 772.7,659.1 769,666" fill="#b814b6"/>
</g>
<g>
<path d="M827.15,630.25 V664.5 M817.85,630.25 H836.45 M817.85,664.5 H836.45" fill="none" stroke="#86581a" stroke-width="1.9"/>
<polygon points="826.75,611.95 830.55,615.75 826.75,619.55 822.95,615.75" fill="#905e20"/>
<polygon points="811,640.7 814.8,644.5 811,648.3 807.2,644.5" fill="#905e20"/>
<polygon points="826.75,645.2 830.55,649 826.75,652.8 822.95,649" fill="#905e20"/>
<polygon points="826.75,652.2 830.55,656 826.75,659.8 822.95,656" fill="#905e20"/>
<polygon points="842.25,653.2 846.05,657 842.25,660.8 838.45,657" fill="#905e20"/>
<polygon points="811,659.2 814.8,663 811,666.8 807.2,663" fill="#905e20"/>
</g>
<g>
<path d="M884.9,614.75 V665.75 M875.6,614.75 H894.2 M875.6,665.75 H894.2" fill="none" stroke="#b6b41a" stroke-width="1.9"/>
<polygon points="880.65,596.5 882.6,593.25 886.4,593.25 888.35,596.5 886.4,599.75 882.6,599.75" fill="#c0bc16"/>
<polygon points="880.65,625.25 882.6,622 886.4,622 888.35,625.25 886.4,628.5 882.6,628.5" fill="#c0bc16"/>
<polygon points="873.15,649.75 875.1,646.5 878.9,646.5 880.85,649.75 878.9,653 875.1,653" fill="#c0bc16"/>
<polygon points="888.4,647.75 890.35,644.5 894.15,644.5 896.1,647.75 894.15,651 890.35,651" fill="#c0bc16"/>
<polygon points="888.4,656.5 890.35,653.25 894.15,653.25 896.1,656.5 894.15,659.75 890.35,659.75" fill="#c0bc16"/>
<polygon points="880.65,666.5 882.6,663.25 886.4,663.25 888.35,666.5 886.4,669.75 882.6,669.75" fill="#c0bc16"/>
</g>
<text class="an" x="595.5" y="587.25" text-anchor="middle">b</text>
<text class="an" x="653.25" y="471.5" text-anchor="middle">a</text>
<text class="an" x="711" y="531" text-anchor="middle">ab</text>
<text class="an" x="769" y="541" text-anchor="middle">ab</text>
<text class="an" x="826.75" y="604.75" text-anchor="middle">b</text>
<text class="an" x="884.5" y="589.75" text-anchor="middle">b</text>
<text class="tt" x="740.1" y="758.6" text-anchor="middle">Muribaculum</text>
<text class="yl" transform="translate(520.6,560.93) rotate(-90)" text-anchor="middle">Relative abundance/(%)</text>
<text class="pl" x="500.8" y="439.6">F</text>
</g>
<g id="panel-G">
<path d="M1061.95,708 V693.25 H1097.25 V708" fill="none" stroke="#0a08dc" stroke-width="2.8"/>
<path d="M1119.85,708 V665.75 H1155.15 V708" fill="none" stroke="#e21212" stroke-width="2.8"/>
<path d="M1177.75,708 V606 H1213.05 V708" fill="none" stroke="#1aec1a" stroke-width="2.8"/>
<path d="M1235.65,708 V680.75 H1270.95 V708" fill="none" stroke="#ac16a8" stroke-width="2.8"/>
<path d="M1293.55,708 V656.5 H1328.85 V708" fill="none" stroke="#86581a" stroke-width="2.8"/>
<path d="M1351.45,708 V665.25 H1386.75 V708" fill="none" stroke="#b6b41a" stroke-width="2.8"/>
<path d="M1040.08,414.65 H1407.9 V708" fill="none" stroke="#000" stroke-width="2.85"/>
<path d="M1041.5,414.65 V708 H1409.33" fill="none" stroke="#000" stroke-width="2.85" stroke-linejoin="miter"/>
<path d="M1033.3,414.65 H1041.5" stroke="#000" stroke-width="3"/>
<text class="tk" x="1030.9" y="419.65" text-anchor="end">12</text>
<path d="M1033.3,512.43 H1041.5" stroke="#000" stroke-width="3"/>
<text class="tk" x="1030.9" y="517.43" text-anchor="end">8</text>
<path d="M1033.3,610.22 H1041.5" stroke="#000" stroke-width="3"/>
<text class="tk" x="1030.9" y="615.22" text-anchor="end">4</text>
<path d="M1033.3,708 H1041.5" stroke="#000" stroke-width="3"/>
<text class="tk" x="1030.9" y="713" text-anchor="end">0</text>
<path d="M1079.5,708 V716.3" stroke="#000" stroke-width="3"/>
<text class="xl" x="1079.5" y="731" text-anchor="middle">C</text>
<path d="M1137.4,708 V716.3" stroke="#000" stroke-width="3"/>
<text class="xl" x="1137.4" y="731" text-anchor="middle">S</text>
<path d="M1195.3,708 V716.3" stroke="#000" stroke-width="3"/>
<text class="xl" x="1195.3" y="731" text-anchor="middle">M</text>
<path d="M1253.2,708 V716.3" stroke="#000" stroke-width="3"/>
<text class="xl" x="1253.2" y="731" text-anchor="middle">F</text>
<path d="M1311.1,708 V716.3" stroke="#000" stroke-width="3"/>
<text class="xl" x="1311.1" y="731" text-anchor="middle">R</text>
<path d="M1369,708 V716.3" stroke="#000" stroke-width="3"/>
<text class="xl" x="1369" y="731" text-anchor="middle">Y</text>
<g>
<path d="M1079.6,685.75 V699 M1070.3,685.75 H1088.9 M1070.3,699 H1088.9" fill="none" stroke="#0a08dc" stroke-width="1.9"/>
<circle cx="1063.75" cy="690.25" r="3.65" fill="#0c0ae8"/>
<circle cx="1074" cy="685.25" r="3.65" fill="#0c0ae8"/>
<circle cx="1084.5" cy="691" r="3.65" fill="#0c0ae8"/>
<circle cx="1095" cy="689" r="3.65" fill="#0c0ae8"/>
<circle cx="1074" cy="700.25" r="3.65" fill="#0c0ae8"/>
<circle cx="1084.5" cy="699.5" r="3.65" fill="#0c0ae8"/>
</g>
<g>
<path d="M1137.5,654 V676.5 M1128.2,654 H1146.8 M1128.2,676.5 H1146.8" fill="none" stroke="#e21212" stroke-width="1.9"/>
<rect x="1118.5" y="647.85" width="7.3" height="7.3" fill="#f40c0c"/>
<rect x="1133.75" y="654.6" width="7.3" height="7.3" fill="#f40c0c"/>
<rect x="1149.25" y="654.6" width="7.3" height="7.3" fill="#f40c0c"/>
<rect x="1126.5" y="664.85" width="7.3" height="7.3" fill="#f40c0c"/>
<rect x="1141.25" y="667.35" width="7.3" height="7.3" fill="#f40c0c"/>
<rect x="1133.75" y="679.6" width="7.3" height="7.3" fill="#f40c0c"/>
</g>
<g>
<path d="M1195.4,529 V680.5 M1186.1,529 H1204.7 M1186.1,680.5 H1204.7" fill="none" stroke="#1aec1a" stroke-width="1.9"/>
<polygon points="1195.3,463 1199,469.9 1191.6,469.9" fill="#16f016"/>
<polygon points="1195.3,580 1199,586.9 1191.6,586.9" fill="#16f016"/>
<polygon points="1195.3,598.75 1199,605.65 1191.6,605.65" fill="#16f016"/>
<polygon points="1195.3,645 1199,651.9 1191.6,651.9" fill="#16f016"/>
<polygon points="1195.3,656.25 1199,663.15 1191.6,663.15" fill="#16f016"/>
<polygon points="1195.3,666.75 1199,673.65 1191.6,673.65" fill="#16f016"/>
</g>
<g>
<path d="M1253.3,663.75 V696.5 M1244,663.75 H1262.6 M1244,696.5 H1262.6" fill="none" stroke="#ac16a8" stroke-width="1.9"/>
<polygon points="1249.5,654.1 1256.9,654.1 1253.2,661" fill="#b814b6"/>
<polygon points="1234,669.1 1241.4,669.1 1237.7,676" fill="#b814b6"/>
<polygon points="1265.25,671.1 1272.65,671.1 1268.95,678" fill="#b814b6"/>
<polygon points="1249.5,675.6 1256.9,675.6 1253.2,682.5" fill="#b814b6"/>
<polygon points="1257.25,691.85 1264.65,691.85 1260.95,698.75" fill="#b814b6"/>
<polygon points="1241.75,697.35 1249.15,697.35 1245.45,704.25" fill="#b814b6"/>
</g>
<g>
<path d="M1311.2,603.75 V706.5 M1301.9,603.75 H1320.5 M1301.9,706.5 H1320.5" fill="none" stroke="#86581a" stroke-width="1.9"/>
<polygon points="1311.1,547.45 1314.9,551.25 1311.1,555.05 1307.3,551.25" fill="#905e20"/>
<polygon points="1303.6,661.95 1307.4,665.75 1303.6,669.55 1299.8,665.75" fill="#905e20"/>
<polygon points="1318.6,666.45 1322.4,670.25 1318.6,674.05 1314.8,670.25" fill="#905e20"/>
<polygon points="1303.6,673.2 1307.4,677 1303.6,680.8 1299.8,677" fill="#905e20"/>
<polygon points="1318.6,674.7 1322.4,678.5 1318.6,682.3 1314.8,678.5" fill="#905e20"/>
<polygon points="1311.1,685.2 1314.9,689 1311.1,692.8 1307.3,689" fill="#905e20"/>
</g>
<g>
<path d="M1369.1,657.75 V671 M1359.8,657.75 H1378.4 M1359.8,671 H1378.4" fill="none" stroke="#b6b41a" stroke-width="1.9"/>
<polygon points="1349.65,661 1351.6,657.75 1355.4,657.75 1357.35,661 1355.4,664.25 1351.6,664.25" fill="#c0bc16"/>
<polygon points="1380.65,655.75 1382.6,652.5 1386.4,652.5 1388.35,655.75 1386.4,659 1382.6,659" fill="#c0bc16"/>
<polygon points="1359.9,664.5 1361.85,661.25 1365.65,661.25 1367.6,664.5 1365.65,667.75 1361.85,667.75" fill="#c0bc16"/>
<polygon points="1371.15,661.5 1373.1,658.25 1376.9,658.25 1378.85,661.5 1376.9,664.75 1373.1,664.75" fill="#c0bc16"/>
<polygon points="1380.65,667.75 1382.6,664.5 1386.4,664.5 1388.35,667.75 1386.4,671 1382.6,671" fill="#c0bc16"/>
<polygon points="1365.15,675.25 1367.1,672 1370.9,672 1372.85,675.25 1370.9,678.5 1367.1,678.5" fill="#c0bc16"/>
</g>
<text class="an" x="1079.5" y="674" text-anchor="middle">b</text>
<text class="an" x="1136.65" y="636.75" text-anchor="middle">ab</text>
<text class="an" x="1195.3" y="458.5" text-anchor="middle">a</text>
<text class="an" x="1253.2" y="649.25" text-anchor="middle">b</text>
<text class="an" x="1311.85" y="544" text-anchor="middle">ab</text>
<text class="an" x="1369" y="644.75" text-anchor="middle">ab</text>
<text class="tt" x="1224" y="758.6" text-anchor="middle">Olsenella</text>
<text class="yl" transform="translate(1005.4,560.93) rotate(-90)" text-anchor="middle">Relative abundance/(%)</text>
<text class="pl" x="985.5" y="439.6">G</text>
</g>
<g id="panel-H">
<path d="M1548.75,708 V705 H1584.05 V708" fill="none" stroke="#0a08dc" stroke-width="2.8"/>
<path d="M1606.65,708 V707 H1641.95 V708" fill="none" stroke="#e21212" stroke-width="2.8"/>
<path d="M1664.55,708 V616.5 H1699.85 V708" fill="none" stroke="#1aec1a" stroke-width="2.8"/>
<path d="M1722.45,708 V683.5 H1757.75 V708" fill="none" stroke="#ac16a8" stroke-width="2.8"/>
<path d="M1780.35,708 V699 H1815.65 V708" fill="none" stroke="#86581a" stroke-width="2.8"/>
<path d="M1838.25,708 V699 H1873.55 V708" fill="none" stroke="#b6b41a" stroke-width="2.8"/>
<path d="M1526.62,414.65 H1894.4 V708" fill="none" stroke="#000" stroke-width="2.85"/>
<path d="M1528.05,414.65 V708 H1895.83" fill="none" stroke="#000" stroke-width="2.85" stroke-linejoin="miter"/>
<path d="M1519.85,414.65 H1528.05" stroke="#000" stroke-width="3"/>
<text class="tk" x="1517.45" y="419.65" text-anchor="end">12</text>
<path d="M1519.85,512.43 H1528.05" stroke="#000" stroke-width="3"/>
<text class="tk" x="1517.45" y="517.43" text-anchor="end">8</text>
<path d="M1519.85,610.22 H1528.05" stroke="#000" stroke-width="3"/>
<text class="tk" x="1517.45" y="615.22" text-anchor="end">4</text>
<path d="M1519.85,708 H1528.05" stroke="#000" stroke-width="3"/>
<text class="tk" x="1517.45" y="713" text-anchor="end">0</text>
<path d="M1566,708 V716.3" stroke="#000" stroke-width="3"/>
<text class="xl" x="1566" y="731" text-anchor="middle">C</text>
<path d="M1623.9,708 V716.3" stroke="#000" stroke-width="3"/>
<text class="xl" x="1623.9" y="731" text-anchor="middle">S</text>
<path d="M1681.8,708 V716.3" stroke="#000" stroke-width="3"/>
<text class="xl" x="1681.8" y="731" text-anchor="middle">M</text>
<path d="M1739.7,708 V716.3" stroke="#000" stroke-width="3"/>
<text class="xl" x="1739.7" y="731" text-anchor="middle">F</text>
<path d="M1797.6,708 V716.3" stroke="#000" stroke-width="3"/>
<text class="xl" x="1797.6" y="731" text-anchor="middle">R</text>
<path d="M1855.5,708 V716.3" stroke="#000" stroke-width="3"/>
<text class="xl" x="1855.5" y="731" text-anchor="middle">Y</text>
<g>
<path d="M1566.4,702 V707 M1557.1,702 H1575.7 M1557.1,707 H1575.7" fill="none" stroke="#0a08dc" stroke-width="1.9"/>
<circle cx="1550.25" cy="706" r="3.65" fill="#0c0ae8"/>
<circle cx="1556.5" cy="701" r="3.65" fill="#0c0ae8"/>
<circle cx="1563" cy="705.25" r="3.65" fill="#0c0ae8"/>
<circle cx="1569" cy="702.75" r="3.65" fill="#0c0ae8"/>
<circle cx="1575.25" cy="707" r="3.65" fill="#0c0ae8"/>
<circle cx="1581.5" cy="705.25" r="3.65" fill="#0c0ae8"/>
</g>
<g>
<rect x="1604.5" y="704.1" width="7.3" height="7.3" fill="#f40c0c"/>
<rect x="1611.25" y="704.1" width="7.3" height="7.3" fill="#f40c0c"/>
<rect x="1617.5" y="704.1" width="7.3" height="7.3" fill="#f40c0c"/>
<rect x="1623.75" y="704.1" width="7.3" height="7.3" fill="#f40c0c"/>
<rect x="1630" y="704.1" width="7.3" height="7.3" fill="#f40c0c"/>
<rect x="1636.25" y="704.1" width="7.3" height="7.3" fill="#f40c0c"/>
</g>
<g>
<path d="M1682.2,538.75 V692.25 M1672.9,538.75 H1691.5 M1672.9,692.25 H1691.5" fill="none" stroke="#1aec1a" stroke-width="1.9"/>
<polygon points="1681.8,456.75 1685.5,463.65 1678.1,463.65" fill="#16f016"/>
<polygon points="1666.3,637 1670,643.9 1662.6,643.9" fill="#16f016"/>
<polygon points="1676.55,638.75 1680.25,645.65 1672.85,645.65" fill="#16f016"/>
<polygon points="1687.05,638 1690.75,644.9 1683.35,644.9" fill="#16f016"/>
<polygon points="1697.55,638.75 1701.25,645.65 1693.85,645.65" fill="#16f016"/>
<polygon points="1681.8,663.75 1685.5,670.65 1678.1,670.65" fill="#16f016"/>
</g>
<g>
<path d="M1740.1,658.5 V707.25 M1730.8,658.5 H1749.4 M1730.8,707.25 H1749.4" fill="none" stroke="#ac16a8" stroke-width="1.9"/>
<polygon points="1736,630.6 1743.4,630.6 1739.7,637.5" fill="#b814b6"/>
<polygon points="1720.5,691.1 1727.9,691.1 1724.2,698" fill="#b814b6"/>
<polygon points="1730.75,688.6 1738.15,688.6 1734.45,695.5" fill="#b814b6"/>
<polygon points="1741.25,692.35 1748.65,692.35 1744.95,699.25" fill="#b814b6"/>
<polygon points="1751.25,689.1 1758.65,689.1 1754.95,696" fill="#b814b6"/>
</g>
<g>
<path d="M1798,690.25 V705.25 M1788.7,690.25 H1807.3 M1788.7,705.25 H1807.3" fill="none" stroke="#86581a" stroke-width="1.9"/>
<polygon points="1797.6,680.2 1801.4,684 1797.6,687.8 1793.8,684" fill="#905e20"/>
<polygon points="1782.1,692.2 1785.9,696 1782.1,699.8 1778.3,696" fill="#905e20"/>
<polygon points="1792.6,695.2 1796.4,699 1792.6,702.8 1788.8,699" fill="#905e20"/>
<polygon points="1802.6,697.7 1806.4,701.5 1802.6,705.3 1798.8,701.5" fill="#905e20"/>
<polygon points="1782.1,699.7 1785.9,703.5 1782.1,707.3 1778.3,703.5" fill="#905e20"/>
<polygon points="1813.35,698.95 1817.15,702.75 1813.35,706.55 1809.55,702.75" fill="#905e20"/>
</g>
<g>
<path d="M1855.9,691.25 V705.25 M1846.6,691.25 H1865.2 M1846.6,705.25 H1865.2" fill="none" stroke="#b6b41a" stroke-width="1.9"/>
<polygon points="1851.65,685.75 1853.6,682.5 1857.4,682.5 1859.35,685.75 1857.4,689 1853.6,689" fill="#c0bc16"/>
<polygon points="1836.15,697 1838.1,693.75 1841.9,693.75 1843.85,697 1841.9,700.25 1838.1,700.25" fill="#c0bc16"/>
<polygon points="1846.15,699.5 1848.1,696.25 1851.9,696.25 1853.85,699.5 1851.9,702.75 1848.1,702.75" fill="#c0bc16"/>
<polygon points="1856.15,700.75 1858.1,697.5 1861.9,697.5 1863.85,700.75 1861.9,704 1858.1,704" fill="#c0bc16"/>
<polygon points="1866.9,700.25 1868.85,697 1872.65,697 1874.6,700.25 1872.65,703.5 1868.85,703.5" fill="#c0bc16"/>
<polygon points="1836.15,704.5 1838.1,701.25 1841.9,701.25 1843.85,704.5 1841.9,707.75 1838.1,707.75" fill="#c0bc16"/>
</g>
<text class="an" x="1566" y="692.75" text-anchor="middle">b</text>
<text class="an" x="1623.9" y="699.25" text-anchor="middle">b</text>
<text class="an" x="1681.8" y="452" text-anchor="middle">a</text>
<text class="an" x="1739.7" y="626" text-anchor="middle">b</text>
<text class="an" x="1797.6" y="674.25" text-anchor="middle">b</text>
<text class="an" x="1855.5" y="674.25" text-anchor="middle">b</text>
<text class="tt" x="1711" y="758.6" text-anchor="middle">Mucispirillum</text>
<text class="yl" transform="translate(1492.6,560.93) rotate(-90)" text-anchor="middle">Relative abundance/(%)</text>
<text class="pl" x="1473" y="439.6">H</text>
</g>
</svg>
</body>
</html>
